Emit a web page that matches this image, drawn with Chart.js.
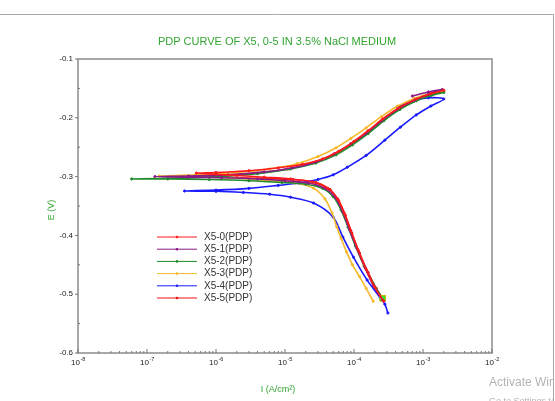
<!DOCTYPE html>
<html>
<head>
<meta charset="utf-8">
<script src="https://cdn.jsdelivr.net/npm/chart.js@4/dist/chart.umd.min.js"></script>
<style>
    html, body { margin: 0; padding: 0; background: #fff; }
    canvas { display: block; }
</style>
</head>
<body>
<canvas id="pdpChart" width="555" height="401"></canvas>
<script>
// series labels and colours
const seriesNames = ['X5-0(PDP)', 'X5-1(PDP)', 'X5-2(PDP)', 'X5-3(PDP)', 'X5-4(PDP)', 'X5-5(PDP)'];
const seriesColors = ['#ff1a1a', '#8a1a8a', '#1f8a2a', '#f5b92a', '#1a1aff', '#ee1111'];

// current density (A/cm2) and potential (V), cathodic end -> Ecorr -> anodic end
const x50_I = [2.7e-4, 2.0e-4, 1.5e-4, 1.15e-4, 9.0e-5, 7.2e-5, 5.8e-5, 4.2e-5, 2.5e-5, 1.2e-5, 5e-6, 2e-6, 1e-6, 5.2e-7,
               1e-6, 3e-6, 8e-6, 1.8e-5, 3.5e-5, 6e-5, 1e-4, 1.6e-4, 2.6e-4, 4.5e-4, 8e-4, 1.3e-3, 2e-3];
const x50_E = [-0.512, -0.488, -0.458, -0.425, -0.392, -0.362, -0.338, -0.320, -0.309, -0.304, -0.301, -0.298, -0.296, -0.294,
               -0.293, -0.290, -0.285, -0.279, -0.270, -0.257, -0.240, -0.222, -0.202, -0.183, -0.168, -0.159, -0.153];

const x51_I = [2.6e-4, 1.9e-4, 1.45e-4, 1.1e-4, 8.6e-5, 6.9e-5, 5.4e-5, 3.8e-5, 2.2e-5, 1e-5, 4e-6, 1.2e-6, 4e-7, 1.3e-7,
               4e-7, 1.5e-6, 5e-6, 1.3e-5, 2.8e-5, 5.2e-5, 9e-5, 1.5e-4, 2.5e-4, 4.3e-4, 7.5e-4, 1.2e-3, 1.9e-3, 1.2e-3, 7e-4];
const x51_E = [-0.510, -0.485, -0.455, -0.422, -0.390, -0.360, -0.336, -0.320, -0.311, -0.307, -0.304, -0.302, -0.301, -0.300,
               -0.299, -0.297, -0.292, -0.285, -0.275, -0.261, -0.244, -0.226, -0.205, -0.185, -0.170, -0.160, -0.152, -0.156, -0.163];

const x52_I = [2.6e-4, 1.9e-4, 1.4e-4, 1.05e-4, 8.2e-5, 6.5e-5, 5e-5, 3.5e-5, 2e-5, 9e-6, 3e-6, 8e-7, 2e-7, 6e-8,
               2e-7, 1e-6, 4e-6, 1.2e-5, 2.8e-5, 5.5e-5, 9.5e-5, 1.6e-4, 2.7e-4, 4.6e-4, 8e-4, 1.3e-3, 2e-3];
const x52_E = [-0.507, -0.482, -0.452, -0.418, -0.386, -0.357, -0.334, -0.320, -0.313, -0.310, -0.307, -0.305, -0.304, -0.304,
               -0.303, -0.300, -0.295, -0.287, -0.277, -0.263, -0.246, -0.227, -0.205, -0.186, -0.171, -0.162, -0.157];

const x53_I = [1.9e-4, 1.5e-4, 1.2e-4, 9.5e-5, 7.8e-5, 6.5e-5, 5.6e-5, 4.8e-5, 3.8e-5, 2.6e-5, 1.4e-5, 5e-6, 1.5e-6, 5e-7, 1.5e-7,
               5e-7, 2e-6, 6e-6, 1.5e-5, 3e-5, 5.5e-5, 9e-5, 1.5e-4, 2.5e-4, 4.3e-4, 7.5e-4, 1.2e-3, 1.9e-3];
const x53_E = [-0.512, -0.490, -0.470, -0.450, -0.428, -0.405, -0.385, -0.362, -0.338, -0.320, -0.311, -0.306, -0.302, -0.300, -0.299,
               -0.297, -0.293, -0.287, -0.278, -0.266, -0.251, -0.235, -0.217, -0.198, -0.180, -0.167, -0.159, -0.154];

const x54_I = [3.1e-4, 2.8e-4, 2.4e-4, 1.55e-4, 9.8e-5, 6.9e-5, 5e-5, 2.6e-5, 1.2e-5, 6e-6, 2.5e-6, 1e-6, 3.5e-7,
               1e-6, 3e-6, 8e-6, 1.6e-5, 3e-5, 5e-5, 8e-5, 1.5e-4, 2.8e-4, 4.7e-4, 8e-4, 1.3e-3, 2e-3, 1.2e-3, 7e-4, 4.2e-4];
const x54_E = [-0.532, -0.517, -0.506, -0.476, -0.437, -0.403, -0.369, -0.345, -0.335, -0.330, -0.327, -0.325, -0.3245,
               -0.323, -0.320, -0.315, -0.311, -0.305, -0.297, -0.284, -0.264, -0.238, -0.216, -0.195, -0.180, -0.168, -0.166, -0.172, -0.182];

const x55_I = [2.7e-4, 2.1e-4, 1.6e-4, 1.2e-4, 9.3e-5, 7.5e-5, 6e-5, 4.5e-5, 2.8e-5, 1.3e-5, 5e-6, 1.5e-6, 3e-7,
               1e-6, 4e-6, 1.1e-5, 2.5e-5, 5e-5, 8.8e-5, 1.45e-4, 2.4e-4, 4.2e-4, 7.5e-4, 1.25e-3, 2e-3];
const x55_E = [-0.510, -0.490, -0.463, -0.430, -0.396, -0.366, -0.341, -0.322, -0.310, -0.305, -0.303, -0.301, -0.300,
               -0.298, -0.294, -0.287, -0.277, -0.263, -0.246, -0.228, -0.207, -0.187, -0.171, -0.161, -0.155];

// axis ticks
const xDecades = [-8, -7, -6, -5, -4, -3, -2];
const yTicks = [-0.6, -0.5, -0.4, -0.3, -0.2, -0.1];

const allI = [x50_I, x51_I, x52_I, x53_I, x54_I, x55_I];
const allE = [x50_E, x51_E, x52_E, x53_E, x54_E, x55_E];

const GREEN = '#33a532';
const FONT = '"Liberation Sans", Arial, sans-serif';

function toPoints(I, E) {
    return I.map((v, i) => ({ x: v, y: E[i] }));
}

const datasets = seriesNames.map((name, s) => {
    const isGreen = s === 2;
    return {
        label: name,
        data: toPoints(allI[s], allE[s]),
        showLine: true,
        borderColor: seriesColors[s],
        borderWidth: 1.6,
        tension: 0.3,
        pointRadius: ctx => (isGreen && ctx.dataIndex === 0) ? 4 : 1.1,
        pointStyle: ctx => (isGreen && ctx.dataIndex === 0) ? 'rect' : 'circle',
        pointBackgroundColor: ctx => (isGreen && ctx.dataIndex === 0) ? '#2ee82e' : seriesColors[s],
        pointBorderColor: ctx => (isGreen && ctx.dataIndex === 0) ? '#c9b200' : seriesColors[s],
        pointBorderWidth: 1
    };
});

// frame, inner ticks, tick labels, titles and legend
const decorPlugin = {
    id: 'decor',
    beforeDraw(chart) {
        const c = chart.ctx;
        c.save();
        c.strokeStyle = '#a8a8a8';
        c.lineWidth = 1;
        c.beginPath();
        c.moveTo(0, 14.5);
        c.lineTo(553.5, 14.5);
        c.lineTo(553.5, 401);
        c.stroke();
        c.restore();
    },
    afterDraw(chart) {
        const c = chart.ctx;
        const a = chart.chartArea;
        const xs = chart.scales.x;
        const ys = chart.scales.y;
        c.save();

        // plot box
        c.strokeStyle = '#8c8c8c';
        c.lineWidth = 1.5;
        c.strokeRect(a.left, a.top, a.right - a.left, a.bottom - a.top);

        // x ticks (inside) and labels
        c.lineWidth = 1;
        c.strokeStyle = '#777';
        xDecades.forEach(d => {
            const px = xs.getPixelForValue(Math.pow(10, d));
            c.beginPath();
            c.moveTo(px, a.bottom);
            c.lineTo(px, a.bottom - 4);
            c.stroke();
            if (d < -2) {
                for (let m = 2; m <= 9; m++) {
                    const mx = xs.getPixelForValue(m * Math.pow(10, d));
                    c.beginPath();
                    c.moveTo(mx, a.bottom);
                    c.lineTo(mx, a.bottom - 2);
                    c.stroke();
                }
            }
            c.fillStyle = '#222';
            c.font = '8px ' + FONT;
            c.textBaseline = 'alphabetic';
            const base = '10';
            const exp = String(d);
            const w1 = c.measureText(base).width;
            c.font = '5.5px ' + FONT;
            const w2 = c.measureText(exp).width;
            const x0 = px - (w1 + w2) / 2;
            c.font = '8px ' + FONT;
            c.fillText(base, x0, a.bottom + 12);
            c.font = '5.5px ' + FONT;
            c.fillText(exp, x0 + w1 + 0.5, a.bottom + 8);
        });

        // y ticks: major outward, minor inward
        yTicks.forEach(v => {
            const py = ys.getPixelForValue(v);
            c.beginPath();
            c.moveTo(a.left - 3, py);
            c.lineTo(a.left, py);
            c.stroke();
            if (v < -0.1) {
                const my = ys.getPixelForValue(v + 0.05);
                c.beginPath();
                c.moveTo(a.left, my);
                c.lineTo(a.left + 2, my);
                c.stroke();
            }
        });

        // title
        c.fillStyle = GREEN;
        c.font = '11px ' + FONT;
        c.textAlign = 'center';
        c.textBaseline = 'middle';
        c.fillText('PDP CURVE OF X5, 0-5 IN 3.5% NaCl MEDIUM', 277, 42);

        // axis titles
        c.font = '9px ' + FONT;
        c.fillText('I (A/cm\u00B2)', 278, 390);
        c.save();
        c.translate(52, 210);
        c.rotate(-Math.PI / 2);
        c.fillText('E (V)', 0, 0);
        c.restore();

        // legend inside plot
        c.textAlign = 'left';
        c.font = '10px ' + FONT;
        chart.data.datasets.forEach((ds, i) => {
            const ly = 237 + i * 12.2;
            c.strokeStyle = ds.borderColor;
            c.lineWidth = 1;
            c.beginPath();
            c.moveTo(157, ly);
            c.lineTo(197, ly);
            c.stroke();
            c.fillStyle = ds.borderColor;
            c.beginPath();
            c.arc(177, ly, 1.3, 0, Math.PI * 2);
            c.fill();
            c.fillStyle = '#333';
            c.fillText(ds.label, 204, ly);
        });

        // screen watermark, cut off at the window edge
        c.beginPath();
        c.rect(0, 15, 553, 386);
        c.clip();
        c.fillStyle = '#b4b4b4';
        c.font = '12px ' + FONT;
        c.fillText('Activate Windows', 489, 383);
        c.font = '9px ' + FONT;
        c.fillText('Go to Settings to activate Windows.', 489, 402);
        c.restore();
    }
};

new Chart(document.getElementById('pdpChart'), {
    type: 'scatter',
    data: { datasets: datasets },
    options: {
        responsive: false,
        animation: false,
        events: [],
        layout: { padding: { top: 59, right: 63, left: 0, bottom: 0 } },
        plugins: {
            legend: { display: false },
            title: { display: false },
            tooltip: { enabled: false }
        },
        scales: {
            x: {
                type: 'logarithmic',
                min: 1e-8,
                max: 1e-2,
                grid: { display: false, drawTicks: false },
                border: { display: false },
                ticks: { display: false },
                afterFit: scale => { scale.height = 48; }
            },
            y: {
                min: -0.6,
                max: -0.1,
                grid: { display: false, drawTicks: false },
                border: { display: false },
                ticks: {
                    stepSize: 0.1,
                    padding: 5,
                    color: '#222',
                    font: { size: 8, family: FONT },
                    callback: v => v.toFixed(1)
                },
                afterFit: scale => { scale.width = 78; }
            }
        }
    },
    plugins: [decorPlugin]
});
</script>
</body>
</html>
